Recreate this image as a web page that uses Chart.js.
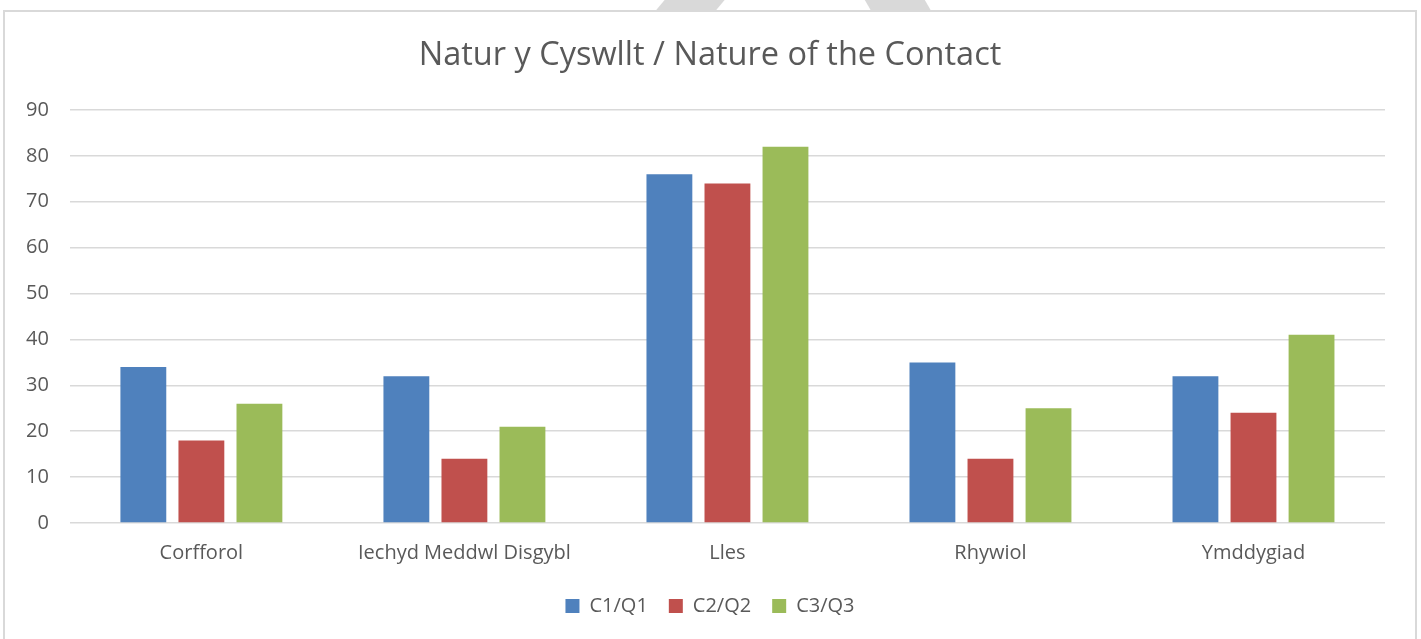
<!DOCTYPE html>
<html>
<head>
  <title>Natur y Cyswllt</title>
  <script src="https://cdn.jsdelivr.net/npm/chart.js"></script>
  <style>
    body { margin: 0; background: #fff; overflow: hidden; }
    .mark { position: absolute; top: 0; width: 60px; height: 11px; background: #d9d9d9; }
    #box {
      position: absolute; left: 3px; top: 10px; width: 1414px; height: 640px;
      border: 2px solid #d9d9d9; box-sizing: border-box; background: #fff;
    }
  </style>
</head>
<body>
<div class="mark" style="left:660px; transform: skewX(-40deg);"></div>
<div class="mark" style="left:868px; transform: skewX(30deg);"></div>
<div id="box"><canvas id="chart"></canvas></div>

<script>
  const categories = ['Corfforol', 'Iechyd Meddwl Disgybl', 'Lles', 'Rhywiol', 'Ymddygiad'];
  const q1 = [34, 32, 76, 35, 32];
  const q2 = [18, 14, 74, 14, 24];
  const q3 = [26, 21, 82, 25, 41];
  const yTicks = [0, 10, 20, 30, 40, 50, 60, 70, 80, 90];

  const font = "'Open Sans', 'Liberation Sans', sans-serif";
  const textColor = '#595959';

  const ctx = document.getElementById('chart').getContext('2d');
  new Chart(ctx, {
    type: 'bar',
    data: {
      labels: categories,
      datasets: [
        { label: 'C1/Q1', data: q1, backgroundColor: '#4f81bd' },
        { label: 'C2/Q2', data: q2, backgroundColor: '#c0504d' },
        { label: 'C3/Q3', data: q3, backgroundColor: '#9bbb59' }
      ]
    },
    options: {
      responsive: true,
      maintainAspectRatio: false,
      animation: false,
      categoryPercentage: 0.662,
      barPercentage: 0.79,
      layout: { padding: { left: 0, right: 0, top: 12, bottom: 22 } },
      scales: {
        x: {
          grid: { display: false },
          border: { display: false },
          ticks: { color: textColor, font: { family: font, size: 20 }, padding: 10 }
        },
        y: {
          min: 0,
          max: 90,
          afterBuildTicks: axis => { axis.ticks = yTicks.map(v => ({ value: v })); },
          grid: { color: '#d9d9d9', lineWidth: 1.5, drawTicks: false },
          border: { display: false },
          ticks: { color: textColor, font: { family: font, size: 20 }, padding: 21 }
        },
        // empty right-hand strip so the plot stops short of the border
        yRight: {
          position: 'right',
          grid: { display: false },
          border: { display: false },
          ticks: { display: false },
          afterFit: scale => { scale.width = 30; }
        }
      },
      plugins: {
        title: {
          display: true,
          text: 'Natur y Cyswllt / Nature of the Contact',
          color: textColor,
          font: { family: font, size: 32.5, weight: 'normal' },
          padding: { top: 12, bottom: 35 }
        },
        legend: {
          position: 'bottom',
          labels: {
            color: textColor,
            font: { family: font, size: 20 },
            boxWidth: 14,
            boxHeight: 14,
            padding: 21
          }
        },
        tooltip: { enabled: false }
      }
    }
  });
</script>
</body>
</html>
